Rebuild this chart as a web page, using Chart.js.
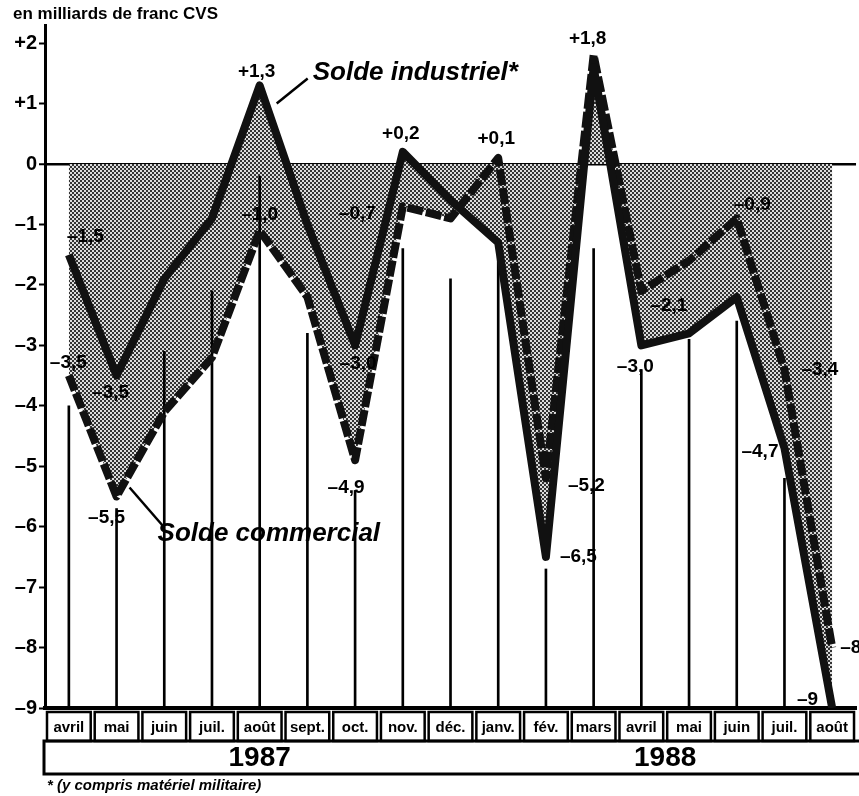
<!DOCTYPE html>
<html>
<head>
<meta charset="utf-8">
<script src="https://cdn.jsdelivr.net/npm/chart.js@4.4.1/dist/chart.umd.min.js"></script>
<style>
  html, body { margin: 0; padding: 0; background: #fff; }
  canvas { display: block; }
</style>
</head>
<body>
<canvas id="graphique" width="859" height="796"></canvas>
<script>
// ---------- donnees (en milliards de francs CVS) ----------
const mois = ['avril', 'mai', 'juin', 'juil.', 'août', 'sept.', 'oct.', 'nov.', 'déc.',
              'janv.', 'fév.', 'mars', 'avril', 'mai', 'juin', 'juil.', 'août'];
const annees = ['1987', '1988'];
const moisParAnnee = [9, 8];
const soldeIndustriel = [-1.5, -3.5, -1.9, -0.9, 1.3, -1.0, -3.0, 0.2, -0.6, -1.3, -6.5, 1.6, -3.0, -2.8, -2.2, -4.7, -9.0];
const soldeCommercial = [-3.5, -5.5, -4.1, -3.2, -1.1, -2.2, -4.9, -0.7, -0.9, 0.1, -5.2, 1.8, -2.1, -1.6, -0.9, -3.4, -8.0];
// haut des traits verticaux qui descendent jusqu'a l'axe
const traitsHaut = [-4.0, -5.7, -3.1, -2.1, -0.2, -2.8, -5.4, -1.4, -1.9, -1.4, -6.7, -1.4, -3.4, -2.9, -2.6, -5.2, -9.0];
const graduations = [2, 1, 0, -1, -2, -3, -4, -5, -6, -7, -8, -9];

// etiquettes de valeurs: mois, serie, texte
const etiquettes = [
  { i: 0,  s: 'ind', t: '–1,5', dx: -2,  dy: -18, a: 'left' },
  { i: 1,  s: 'ind', t: '–3,5', dx: -6,  dy: 17,  a: 'center' },
  { i: 4,  s: 'ind', t: '+1,3', dx: -3,  dy: -14, a: 'center' },
  { i: 6,  s: 'ind', t: '–3,0', dx: 3,   dy: 18,  a: 'center' },
  { i: 7,  s: 'ind', t: '+0,2', dx: -2,  dy: -18, a: 'center' },
  { i: 10, s: 'ind', t: '–6,5', dx: 14,  dy: 0,   a: 'left' },
  { i: 12, s: 'ind', t: '–3,0', dx: -6,  dy: 21,  a: 'center' },
  { i: 15, s: 'ind', t: '–4,7', dx: -6,  dy: 4,   a: 'right' },
  { i: 16, s: 'ind', t: '–9',   dx: -14, dy: -8,  a: 'right' },
  { i: 0,  s: 'com', t: '–3,5', dx: -19, dy: -13, a: 'left' },
  { i: 1,  s: 'com', t: '–5,5', dx: -10, dy: 21,  a: 'center' },
  { i: 4,  s: 'com', t: '–1,0', dx: 0,   dy: -16, a: 'center' },
  { i: 6,  s: 'com', t: '–4,9', dx: -9,  dy: 28,  a: 'center' },
  { i: 7,  s: 'com', t: '–0,7', dx: -27, dy: 7,   a: 'right' },
  { i: 9,  s: 'com', t: '+0,1', dx: -2,  dy: -19, a: 'center' },
  { i: 10, s: 'com', t: '–5,2', dx: 22,  dy: 7,   a: 'left' },
  { i: 11, s: 'com', t: '+1,8', dx: -6,  dy: -16, a: 'center' },
  { i: 12, s: 'com', t: '–2,1', dx: 9,   dy: 15,  a: 'left' },
  { i: 14, s: 'com', t: '–0,9', dx: -3,  dy: -14, a: 'left' },
  { i: 15, s: 'com', t: '–3,4', dx: 17,  dy: 0,   a: 'left' },
  { i: 16, s: 'com', t: '–8,0', dx: 8,   dy: 0,   a: 'left' }
];

const POLICE = "'Liberation Sans', Arial, sans-serif";
const canvas = document.getElementById('graphique');
const ctx = canvas.getContext('2d');

// trame grise facon similigravure
const trame = (() => {
  const t = document.createElement('canvas');
  t.width = 4; t.height = 4;
  const g = t.getContext('2d');
  g.fillStyle = '#dcdcdc';
  g.fillRect(0, 0, 4, 4);
  g.fillStyle = '#333';
  g.fillRect(0, 0, 2, 2);
  g.fillRect(2, 2, 2, 2);
  return ctx.createPattern(t, 'repeat');
})();

// ---------- habillage: cases des mois, annees, textes ----------
const habillage = {
  id: 'habillage',
  afterDraw(chart) {
    const c = chart.ctx;
    const xs = chart.scales.x;
    const ys = chart.scales.y;
    const ca = chart.chartArea;
    const pas = xs.getPixelForValue(1) - xs.getPixelForValue(0);

    c.save();
    c.strokeStyle = '#000';
    c.fillStyle = '#000';

    // cases des mois
    c.lineWidth = 2.5;
    mois.forEach((m, i) => {
      const cx = xs.getPixelForValue(i);
      c.strokeRect(cx - pas / 2 + 2, ca.bottom + 4, pas - 4, 29);
    });

    // bandeau des annees
    c.lineWidth = 3;
    c.strokeRect(ca.left - 1, ca.bottom + 33, ca.right - ca.left + 8, 33);
    c.font = 'bold 28px ' + POLICE;
    c.textAlign = 'center';
    c.textBaseline = 'middle';
    let debut = 0;
    annees.forEach((a, k) => {
      const x0 = xs.getPixelForValue(debut) - pas / 2;
      const x1 = xs.getPixelForValue(debut + moisParAnnee[k] - 1) + pas / 2;
      c.fillText(a, (x0 + x1) / 2, ca.bottom + 50);
      debut += moisParAnnee[k];
    });

    // etiquettes de valeurs
    c.font = 'bold 19px ' + POLICE;
    etiquettes.forEach(e => {
      const v = e.s === 'ind' ? soldeIndustriel[e.i] : soldeCommercial[e.i];
      c.textAlign = e.a;
      c.fillText(e.t, xs.getPixelForValue(e.i) + e.dx, ys.getPixelForValue(v) + e.dy);
    });

    // noms des series avec leur trait de rappel
    c.lineWidth = 2.5;
    const xi = xs.getPixelForValue(4), yi = ys.getPixelForValue(soldeIndustriel[4]);
    c.beginPath(); c.moveTo(xi + 17, yi + 18); c.lineTo(xi + 48, yi - 7); c.stroke();
    const xc = xs.getPixelForValue(1), yc = ys.getPixelForValue(soldeCommercial[1]);
    c.beginPath(); c.moveTo(xc + 13, yc - 9); c.lineTo(xc + 46, yc + 29); c.stroke();
    c.font = 'italic bold 26px ' + POLICE;
    c.textAlign = 'left';
    c.fillText('Solde industriel*', xi + 53, yi - 13);
    c.fillText('Solde commercial', xc + 41, yc + 37);

    // titre de l'axe et note
    c.font = 'bold 17px ' + POLICE;
    c.fillText('en milliards de franc CVS', 13, 14);
    c.font = 'italic bold 15px ' + POLICE;
    c.fillText('* (y compris matériel militaire)', 47, 786);
    c.restore();
  }
};

new Chart(ctx, {
  data: {
    labels: mois,
    datasets: [
      {
        type: 'line',
        label: 'Solde industriel',
        data: soldeIndustriel,
        borderColor: '#111',
        borderWidth: 8,
        borderJoinStyle: 'round',
        pointRadius: 0,
        tension: 0,
        fill: 'origin',
        backgroundColor: trame,
        order: 1
      },
      {
        type: 'line',
        label: 'Solde commercial',
        data: soldeCommercial,
        borderColor: '#111',
        borderWidth: 8,
        borderDash: [16, 3],
        borderJoinStyle: 'round',
        pointRadius: 0,
        tension: 0,
        fill: 'origin',
        backgroundColor: trame,
        order: 2
      },
      {
        type: 'bar',
        label: 'traits',
        data: traitsHaut.map(h => [-9, h]),
        backgroundColor: '#000',
        barThickness: 2,
        borderWidth: 0,
        order: 3
      }
    ]
  },
  options: {
    responsive: false,
    animation: false,
    layout: { padding: { top: 25, right: 0, left: 0, bottom: 0 } },
    plugins: {
      legend: { display: false },
      tooltip: { enabled: false },
      filler: { drawTime: 'beforeDatasetsDraw' }
    },
    scales: {
      x: {
        type: 'category',
        offset: true,
        grid: { display: false, drawTicks: false },
        border: { display: true, color: '#000', width: 4 },
        ticks: {
          color: '#000',
          font: { family: POLICE, size: 15, weight: 'bold' },
          padding: 11,
          maxRotation: 0,
          autoSkip: false
        },
        afterFit: s => { s.height = 88; }
      },
      y: {
        min: -9,
        max: 2.3,
        afterBuildTicks: s => { s.ticks = graduations.map(v => ({ value: v })); },
        grid: {
          color: c => (c.tick && c.tick.value === 0 ? '#000' : 'rgba(0,0,0,0)'),
          lineWidth: c => (c.tick && c.tick.value === 0 ? 2.5 : 1),
          tickColor: '#000',
          tickWidth: 2,
          tickLength: 6
        },
        border: { color: '#000', width: 3 },
        ticks: {
          color: '#000',
          font: { family: POLICE, size: 20, weight: 'bold' },
          padding: 2,
          callback: v => (v > 0 ? '+' + v : v < 0 ? '–' + (-v) : '0')
        },
        afterFit: s => { s.width = 45; }
      }
    }
  },
  plugins: [habillage]
});
</script>
</body>
</html>
